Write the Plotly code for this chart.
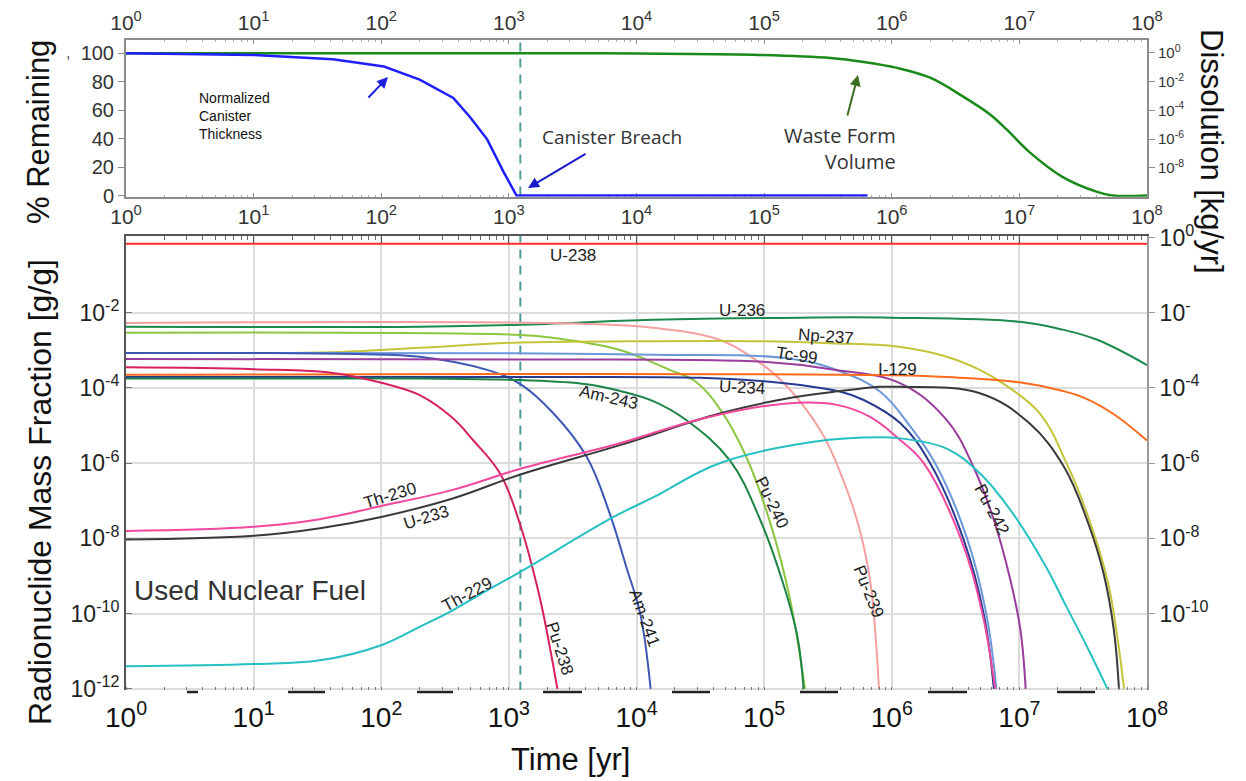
import plotly.graph_objects as go

W, H = 1246, 781

# ---------------- data: top panel (% remaining) ----------------
canister_t = [1, 10, 41.7, 105, 200, 367, 501, 676, 912, 1148, 6.46e5]
canister_pct = [100, 98.8, 95.8, 90.7, 81.5, 68.6, 54.7, 39.5, 16.3, 0, 0]
waste_t = [1, 1000, 1e4, 8.13e4, 3.31e5, 6.03e5, 1.10e6, 2.0e6, 3.63e6, 5.89e6,
           7.94e6, 1.20e7, 2.19e7, 4.07e7, 5.37e7, 1e8]
waste_pct = [100, 100, 99.8, 99, 96.7, 93.9, 89.7, 82.8, 69.5, 57, 46.5, 30.5,
             13, 2.6, 0, 0]
breach_time = 1230

# ---------------- data: bottom panel (mass fraction, g/g) ----------------
u238_t = [1, 1e8]
u238_v = [0.68, 0.68]
u236_t = [1, 200, 1230, 1.35e4, 1.91e5, 1.0e6, 1.0e7, 2.19e7, 4.07e7, 1.0e8]
u236_v = [4.27e-3, 4.27e-3, 4.79e-3, 6.46e-3, 7.41e-3, 7.41e-3, 5.75e-3, 3.55e-3, 1.91e-3, 4.07e-4]
pu239_t = [1, 3630, 1.35e4, 4.47e4, 8.13e4, 1.35e5, 2.75e5, 4.17e5, 5.62e5, 6.76e5, 7.41e5, 7.94e5]
pu239_v = [5.37e-3, 5.13e-3, 3.98e-3, 1.91e-3, 6.31e-4, 1.62e-4, 7.59e-6, 3.55e-7, 1.66e-8, 7.76e-10, 3.63e-11, 1.0e-12]
pu240_t = [1, 1230, 2240, 7410, 1.82e4, 2.88e4, 4.57e4, 7.24e4, 1.12e5, 1.58e5, 2.09e5]
pu240_v = [2.95e-3, 2.57e-3, 2.14e-3, 1.02e-3, 3.02e-4, 1.51e-4, 2.57e-5, 1.48e-6, 2.51e-8, 2.82e-10, 1.0e-12]
am243_t = [1, 200, 1230, 4070, 7410, 1.35e4, 2.45e4, 5.37e4, 9.33e4, 1.41e5, 1.82e5, 2.04e5]
am243_v = [1.78e-4, 1.78e-4, 1.62e-4, 1.26e-4, 8.32e-5, 4.47e-5, 1.41e-5, 1.20e-6, 3.09e-8, 6.31e-10, 2.51e-11, 1.0e-12]
np237_t = [1, 10, 39.8, 200, 1230, 1e4, 1e5, 3.31e5, 1.10e6, 2.69e6, 4.90e6, 7.59e6, 1.45e7,
           2.34e7, 3.39e7, 4.90e7, 5.75e7, 6.61e7]
np237_v = [8.51e-4, 8.51e-4, 8.91e-4, 1.17e-3, 1.62e-3, 1.74e-3, 1.74e-3, 1.55e-3, 1.26e-3, 6.76e-4,
           3.02e-4, 1.26e-4, 2.09e-5, 1.0e-6, 4.57e-8, 7.76e-10, 3.63e-11, 1.0e-12]
tc99_t = [1, 1000, 1.35e4, 1.51e5, 3.98e5, 8.13e5, 1.38e6, 2.19e6, 3.89e6, 5.50e6, 6.61e6]
tc99_v = [8.51e-4, 8.32e-4, 7.59e-4, 6.17e-4, 2.75e-4, 7.94e-5, 1.0e-5, 1.0e-6, 1.0e-8, 1.0e-10, 1.0e-12]
am241_t = [1, 10, 63.1, 200, 676, 1230, 2240, 4070, 6170, 8320, 1.07e4, 1.29e4]
am241_v = [8.51e-4, 8.51e-4, 7.94e-4, 6.76e-4, 3.02e-4, 1.26e-4, 2.09e-5, 1.48e-6, 4.57e-8, 1.74e-9, 1.0e-10, 1.0e-12]
pu242_t = [1, 1000, 1.05e5, 3.31e5, 1.17e6, 2.69e6, 4.37e6, 6.31e6, 8.51e6, 1.02e7, 1.12e7]
pu242_v = [5.89e-4, 5.75e-4, 4.90e-4, 3.16e-4, 1.32e-4, 1.41e-5, 7.94e-7, 3.09e-8, 7.76e-10, 3.63e-11, 1.0e-12]
u234_t = [1, 1000, 3.16e4, 1.05e5, 3.98e5, 6.03e5, 1.17e6, 2.0e6, 3.63e6, 5.25e6, 6.31e6]
u234_v = [1.95e-4, 1.95e-4, 1.86e-4, 1.48e-4, 7.94e-5, 4.79e-5, 1.15e-5, 1.0e-6, 1.0e-8, 1.0e-10, 1.0e-12]
i129_t = [1, 1e6, 3.16e6, 1e7, 2.19e7, 3.16e7, 5.50e7, 1e8]
i129_v = [2.24e-4, 2.19e-4, 1.91e-4, 1.41e-4, 8.32e-5, 5.62e-5, 2.0e-5, 3.98e-6]
pu238_t = [1, 10, 41.7, 102, 200, 363, 525, 851, 1230, 1740, 2090, 2400]
pu238_v = [3.55e-4, 3.16e-4, 2.51e-4, 1.35e-4, 6.46e-5, 1.58e-5, 4.07e-6, 5.37e-7, 2.24e-8, 2.82e-10, 1.32e-11, 1.0e-12]
th230_t = [1, 10, 33.1, 100, 363, 1230, 7410, 3.31e4, 1.51e5, 3.72e5, 6.76e5, 1.17e6, 1.78e6,
           3.47e6, 5.13e6, 6.46e6]
th230_v = [1.58e-8, 2.04e-8, 3.24e-8, 7.24e-8, 1.95e-7, 7.08e-7, 3.39e-6, 1.55e-5, 3.89e-5, 3.55e-5,
           1.70e-5, 4.07e-6, 1.0e-6, 1.0e-8, 1.0e-10, 1.0e-12]
u233_t = [1, 10, 33.1, 100, 363, 1230, 7410, 4.47e4, 1.51e5, 5.01e5, 8.13e5, 1.17e6, 4.90e6,
          1.20e7, 2.24e7, 3.39e7, 4.57e7, 5.50e7, 6.03e7]
u233_v = [9.33e-9, 1.17e-8, 1.86e-8, 3.72e-8, 1.15e-7, 5.01e-7, 3.02e-6, 2.09e-5, 5.25e-5, 9.12e-5,
          1.07e-4, 1.07e-4, 7.24e-5, 1.15e-5, 7.94e-7, 3.09e-8, 1.17e-9, 3.63e-11, 1.0e-12]
th229_t = [1, 10, 33.1, 100, 200, 363, 676, 1230, 6610, 1.35e4, 4.47e4, 2.45e5, 8.13e5, 1.17e6,
           2.69e6, 4.90e6, 8.91e6, 1.62e7, 2.34e7, 3.39e7, 4.90e7]
th229_v = [3.98e-12, 4.57e-12, 5.75e-12, 1.45e-11, 4.47e-11, 1.23e-10, 4.17e-10, 1.29e-9, 3.72e-8,
           1.23e-7, 1.0e-6, 3.72e-6, 4.90e-6, 4.57e-6, 2.45e-6, 5.37e-7, 4.57e-8, 1.74e-9, 1.51e-10,
           1.32e-11, 1.0e-12]

# tick labels
decade_vals = [1, 10, 100, 1e3, 1e4, 1e5, 1e6, 1e7, 1e8]
decade_text = ["10<sup>0</sup>", "10<sup>1</sup>", "10<sup>2</sup>", "10<sup>3</sup>", "10<sup>4</sup>",
               "10<sup>5</sup>", "10<sup>6</sup>", "10<sup>7</sup>", "10<sup>8</sup>"]
pct_vals = [0, 20, 40, 60, 80, 100]
diss_vals = [1, 1e-2, 1e-4, 1e-6, 1e-8]
diss_text = ["10<sup>0</sup>", "10<sup>-2</sup>", "10<sup>-4</sup>", "10<sup>-6</sup>", "10<sup>-8</sup>"]
mf_left_vals = [1e-2, 1e-4, 1e-6, 1e-8, 1e-10, 1e-12]
mf_left_text = ["10<sup>-2</sup>", "10<sup>-4</sup>", "10<sup>-6</sup>", "10<sup>-8</sup>",
                "10<sup>-10</sup>", "10<sup>-12</sup>"]
mf_right_vals = [1, 1e-2, 1e-4, 1e-6, 1e-8, 1e-10]
mf_right_text = ["10<sup>0</sup>", "10<sup>-</sup>", "10<sup>-4</sup>", "10<sup>-6</sup>",
                 "10<sup>-8</sup>", "10<sup>-10</sup>"]

series = [
    ("U-238", u238_t, u238_v, "#ff2a2a"),
    ("U-236", u236_t, u236_v, "#1b8a4c"),
    ("Pu-239", pu239_t, pu239_v, "#f5a0a0"),
    ("Pu-240", pu240_t, pu240_v, "#8cc63f"),
    ("Np-237", np237_t, np237_v, "#c4c43a"),
    ("Tc-99", tc99_t, tc99_v, "#6b98da"),
    ("Am-241", am241_t, am241_v, "#3b58b5"),
    ("Pu-242", pu242_t, pu242_v, "#9a3c9c"),
    ("I-129", i129_t, i129_v, "#ff6a1c"),
    ("U-234", u234_t, u234_v, "#2a3c92"),
    ("Am-243", am243_t, am243_v, "#1e8446"),
    ("Pu-238", pu238_t, pu238_v, "#d7215f"),
    ("U-233", u233_t, u233_v, "#3a3a3a"),
    ("Th-230", th230_t, th230_v, "#f2489d"),
    ("Th-229", th229_t, th229_v, "#26c0c2"),
]

FONT = "Arial, Liberation Sans, Helvetica, sans-serif"


def px(x, y):
    return x / W, 1 - y / H


X0, X1 = 126, 1147
TOP_Y0, TOP_Y1 = 40, 196.7
BOT_Y0, BOT_Y1 = 236, 690
xdom = [X0 / W, X1 / W]
top_dom = [1 - TOP_Y1 / H, 1 - TOP_Y0 / H]
bot_dom = [1 - BOT_Y1 / H, 1 - BOT_Y0 / H]

fig = go.Figure()

# top panel
fig.add_trace(go.Scatter(x=[breach_time, breach_time], y=[0, 109.5], xaxis="x", yaxis="y",
                         mode="lines", line=dict(color="#4f9a9a", width=2, dash="9px,7px")))
fig.add_trace(go.Scatter(x=waste_t, y=waste_pct, xaxis="x", yaxis="y", mode="lines",
                         line=dict(color="#1a8a1a", width=2.5, shape="spline", smoothing=1.0)))
fig.add_trace(go.Scatter(x=canister_t, y=canister_pct, xaxis="x", yaxis="y", mode="lines",
                         line=dict(color="#1f1fff", width=2.5)))

# invisible anchors so that the overlaid axes are drawn
ghost = dict(mode="markers", marker=dict(opacity=0, size=1), hoverinfo="skip")
fig.add_trace(go.Scatter(x=[breach_time], y=[50], xaxis="x3", yaxis="y", **ghost))
fig.add_trace(go.Scatter(x=[breach_time], y=[1e-4], xaxis="x", yaxis="y3", **ghost))
fig.add_trace(go.Scatter(x=[breach_time], y=[1e-4], xaxis="x4", yaxis="y2", **ghost))
fig.add_trace(go.Scatter(x=[breach_time], y=[1e-4], xaxis="x2", yaxis="y4", **ghost))

# bottom panel
fig.add_trace(go.Scatter(x=[breach_time, breach_time], y=[9e-13, 1.2], xaxis="x2", yaxis="y2",
                         mode="lines", line=dict(color="#4f9a9a", width=2, dash="9px,7px")))
for name, t, v, c in series:
    fig.add_trace(go.Scatter(x=t, y=v, xaxis="x2", yaxis="y2", mode="lines", name=name,
                             line=dict(color=c, width=2, shape="spline", smoothing=1.1)))

axis_common = dict(showgrid=False, zeroline=False, automargin=False)

fig.update_layout(
    width=W, height=H, margin=dict(l=0, r=0, t=0, b=0, autoexpand=False),
    paper_bgcolor="white", plot_bgcolor="white", showlegend=False,
    font=dict(family=FONT, color="#222"),
    xaxis=dict(domain=xdom, anchor="y", type="log", range=[0, 8], tickmode="array",
               tickvals=decade_vals, ticktext=decade_text, tickfont=dict(size=21, color="#333"),
               showline=True, linecolor="#8c8c8c", linewidth=2, ticks="inside", ticklen=4,
               tickcolor="#8c8c8c", layer="below traces",
               minor=dict(ticks="inside", ticklen=2, tickcolor="#aaaaaa", dtick="D1"),
               **axis_common),
    xaxis3=dict(overlaying="x", anchor="y", side="top", type="log", range=[0, 8], tickmode="array",
                tickvals=decade_vals, ticktext=decade_text, tickfont=dict(size=21, color="#333"),
                showline=True, linecolor="#8c8c8c", linewidth=2, ticks="inside", ticklen=4,
                tickcolor="#8c8c8c", minor=dict(ticks="inside", ticklen=2, tickcolor="#aaaaaa", dtick="D1"),
                **axis_common),
    yaxis=dict(domain=top_dom, anchor="x", range=[-0.8, 109.3], tickmode="array", tickvals=pct_vals,
               tickfont=dict(size=20, color="#333"), showline=True, linecolor="#8c8c8c", linewidth=2,
               ticks="outside", ticklen=6, tickcolor="#8c8c8c", layer="below traces", **axis_common),
    yaxis3=dict(overlaying="y", anchor="x", side="right", type="log", range=[-10.02, 0.90],
                tickmode="array", tickvals=diss_vals, ticktext=diss_text,
                tickfont=dict(size=15, color="#333"), showline=True, linecolor="#8c8c8c", linewidth=2,
                ticks="outside", ticklen=6, tickcolor="#8c8c8c", **axis_common),
    xaxis2=dict(domain=xdom, anchor="y2", type="log", range=[0, 8], tickmode="array",
                tickvals=decade_vals, ticktext=decade_text, tickfont=dict(size=28, color="#111"),
                showline=False, ticks="", showgrid=True, gridcolor="#dcdcdc", gridwidth=1.5,
                zeroline=False, automargin=False, ticklabelstandoff=8,
                minor=dict(ticks="inside", ticklen=3, tickcolor="#777777", dtick="D1")),
    xaxis4=dict(overlaying="x2", anchor="y2", side="top", type="log", range=[0, 8], tickmode="array",
                tickvals=decade_vals, showticklabels=False, showline=True, linecolor="#555",
                linewidth=2, ticks="inside", ticklen=7, tickcolor="#555",
                minor=dict(ticks="inside", ticklen=4, tickcolor="#666", dtick="D1"), **axis_common),
    yaxis2=dict(domain=bot_dom, anchor="x2", type="log", range=[-12.03, 0.04], tickmode="array",
                tickvals=mf_left_vals, ticktext=mf_left_text, tickfont=dict(size=23, color="#222"),
                showline=True, linecolor="#555", linewidth=2, ticks="inside", ticklen=6,
                tickcolor="#777", showgrid=True, gridcolor="#dcdcdc", gridwidth=1.5, zeroline=False,
                automargin=False),
    yaxis4=dict(overlaying="y2", anchor="x2", side="right", type="log", range=[-12.03, 0.04],
                tickmode="array", tickvals=mf_right_vals, ticktext=mf_right_text,
                tickfont=dict(size=23, color="#222"), showline=True, linecolor="#9a9a9a", linewidth=2,
                ticks="outside", ticklen=6, tickcolor="#9a9a9a", **axis_common),
)

ann = []


def text(s, x, y, size, angle=0, color="#222", family=FONT, xanchor="center", yanchor="middle",
         align="center"):
    xp, yp = px(x, y)
    ann.append(dict(text=s, x=xp, y=yp, xref="paper", yref="paper", showarrow=False,
                    font=dict(size=size, color=color, family=family), textangle=angle,
                    xanchor=xanchor, yanchor=yanchor, align=align))


def arrow(hx, hy, tx, ty, color):
    xp, yp = px(hx, hy)
    ann.append(dict(text="", x=xp, y=yp, xref="paper", yref="paper", showarrow=True,
                    ax=tx - hx, ay=ty - hy, arrowhead=2, arrowsize=1.1, arrowwidth=2,
                    arrowcolor=color, standoff=0))


# axis titles
text("% Remaining", 38, 132, 31, angle=-90, color="#111")
text("Dissolution [kg/yr]", 1212, 151, 31, angle=90, color="#111")
text("Radionuclide Mass Fraction [g/g]", 40, 492, 32, angle=-90, color="#111")
text("Time [yr]", 570, 759, 31, color="#111")
text(",", 68, 53, 16, color="#555")

# top-panel annotations
text("Normalized<br>Canister<br>Thickness", 197, 88, 14, color="#111", xanchor="left",
     yanchor="top", align="left")
text("Canister Breach", 612, 137, 19, color="#333", family="Open Sans, Lato, sans-serif")
text("Waste Form<br>Volume", 898, 148, 20, color="#333", family="Open Sans, Lato, sans-serif",
     xanchor="right", align="right")
arrow(388, 77, 367, 99, "#1f1fe0")
arrow(528, 188, 587, 153, "#1a1acc")
arrow(858, 75, 847, 117, "#3b6e1e")

# bottom-panel labels
text("Used Nuclear Fuel", 132, 590, 28, color="#333", xanchor="left")
curve_labels = [
    ("U-238", 573, 255, 0), ("U-236", 742, 310, 0), ("Np-237", 826, 336, 4),
    ("Tc-99", 797, 356, 8), ("I-129", 897, 369, 0), ("U-234", 742, 387, 3),
    ("Am-243", 609, 397, 13), ("Pu-240", 772, 502, 64), ("Pu-239", 869, 591, 68),
    ("Pu-242", 992, 509, 62), ("Am-241", 645, 618, 70), ("Pu-238", 560, 648, 72),
    ("Th-230", 390, 495, -17), ("U-233", 426, 517, -17), ("Th-229", 467, 594, -28),
]
for s, x, y, a in curve_labels:
    text(s, x, y, 17, angle=a, color="#222")

fig.update_layout(annotations=ann)

# dark dash marks along the lower edge of the bottom panel (as in the scanned figure)
edge_marks = [(187, 198), (288, 325), (417, 453), (543, 582), (672, 710), (800, 838),
              (928, 967), (1057, 1095)]
shapes = []
for a, b in edge_marks:
    x0, y0 = px(a, 692)
    x1, _ = px(b, 692)
    shapes.append(dict(type="line", xref="paper", yref="paper", x0=x0, x1=x1, y0=y0, y1=y0,
                       line=dict(color="#222", width=2.5)))
fig.update_layout(shapes=shapes)

fig.write_html("out.html")
